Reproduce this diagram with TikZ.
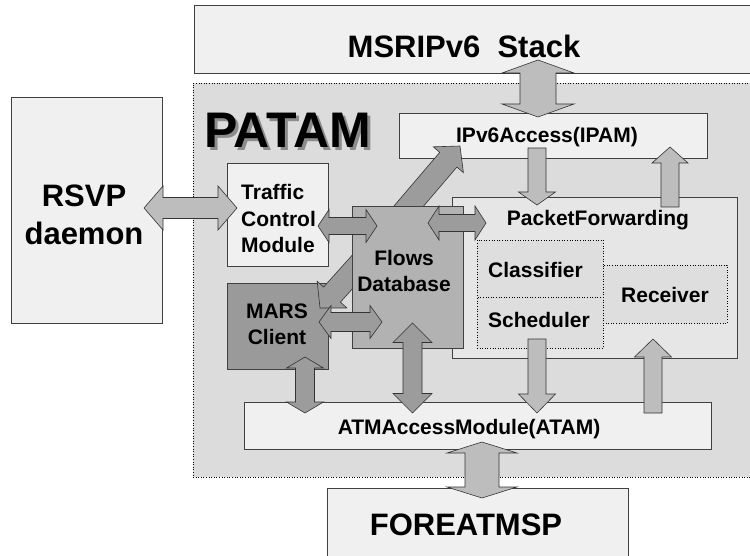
\documentclass[tikz,border=0pt]{standalone}
\usepackage{fontspec}
\setmainfont{Liberation Sans}
\usetikzlibrary{calc}

\definecolor{boxgray}{HTML}{F0F0F0}
\definecolor{patamgray}{HTML}{DCDCDC}
\definecolor{pfgray}{HTML}{E6E6E6}
\definecolor{subgray}{HTML}{DEDEDE}
\definecolor{flowsgray}{HTML}{B2B2B2}
\definecolor{marsgray}{HTML}{9A9A9A}
\definecolor{darrgray}{HTML}{9C9C9C}
\definecolor{larrgray}{HTML}{BDBDBD}

% block arrows: [style](tail)(tip)(shaft half:head half:head length)
\def\fatarrow[#1](#2)(#3)(#4:#5:#6){%
  \coordinate (hb) at ($(#3)!#6pt!(#2)$);
  \draw[#1] ($(#2)!#4pt!90:(#3)$) -- ($(hb)!#4pt!90:(#3)$) -- ($(hb)!#5pt!90:(#3)$) -- (#3)
    -- ($(hb)!#5pt!-90:(#3)$) -- ($(hb)!#4pt!-90:(#3)$) -- ($(#2)!#4pt!-90:(#3)$) -- cycle}
\def\fatdarrow[#1](#2)(#3)(#4:#5:#6){%
  \coordinate (ha) at ($(#2)!#6pt!(#3)$);
  \coordinate (hb) at ($(#3)!#6pt!(#2)$);
  \draw[#1] (#2) -- ($(ha)!#5pt!90:(#3)$) -- ($(ha)!#4pt!90:(#3)$) -- ($(hb)!#4pt!90:(#3)$) -- ($(hb)!#5pt!90:(#3)$) -- (#3)
    -- ($(hb)!#5pt!-90:(#3)$) -- ($(hb)!#4pt!-90:(#3)$) -- ($(ha)!#4pt!-90:(#3)$) -- ($(ha)!#5pt!-90:(#3)$) -- cycle}
% shadowed title
\def\shadowtext#1{\rlap{\kern3pt\raisebox{-3pt}{\textcolor{black!45}{#1}}}#1}

\begin{document}
\begin{tikzpicture}[x=1pt,y=-1pt,
    box/.style={draw=black!75, line width=0.7pt, fill=boxgray, inner sep=0pt},
    dotbox/.style={draw=black, dotted, line width=0.6pt, fill=subgray, inner sep=0pt},
    txt/.style={inner sep=0pt, align=center, font=\bfseries\fontsize{21}{26.5}\selectfont},
    bigtxt/.style={inner sep=0pt, align=center, font=\bfseries\fontsize{31}{38}\selectfont},
    darr/.style={draw=black!80, line width=0.6pt, fill=darrgray},
    larr/.style={draw=black!80, line width=0.6pt, fill=larrgray}]
	\clip (0,0) rectangle (750,556);
	
	% outside blocks
	\node[box, minimum width=576pt, minimum height=68pt] (msrip) at (482,39) {};
	\node[bigtxt, anchor=base] (msrip-t) at (464,58) {MSRIPv6\ \ Stack};
	\node[box, minimum width=151pt, minimum height=226pt] (rsvp) at (86.5,210) {};
	\node[bigtxt] (rsvp-t) at (84,215) {RSVP\\daemon};
	
	% PATAM area
	\node[draw=black, dotted, line width=0.6pt, fill=patamgray, minimum width=577pt, minimum height=394pt] (patam) at (481.5,280) {};
	\node[anchor=base west, inner sep=0pt, font=\bfseries\fontsize{50}{60}\selectfont] (patam-t) at (204,148) {\shadowtext{PATAM}};
	
	\node[box, minimum width=301pt, minimum height=92pt] (fore) at (477.5,534) {};
	\node[bigtxt, anchor=base] (fore-t) at (466,535) {FOREATMSP};
	
	\node[box, minimum width=308pt, minimum height=45pt] (ipam) at (553,135.5) {};
	\node[box, minimum width=101pt, minimum height=103pt] (traffic) at (277.5,214.5) {};
	\node[txt, align=left, anchor=west] (traffic-t) at (241,218.5) {Traffic\\Control\\Module};
	
	% packet forwarding
	\node[box, fill=pfgray, minimum width=285pt, minimum height=161pt] (pfwd) at (594.5,277.5) {};
	\node[txt, anchor=base] (pfwd-t) at (598,226) {PacketForwarding};
	\node[dotbox, minimum width=126pt, minimum height=57pt] (classif) at (540,268.5) {};
	\node[dotbox, minimum width=126pt, minimum height=51pt] (sched) at (540,322.5) {};
	\node[dotbox, minimum width=124pt, minimum height=58pt] (recv) at (665,294) {};
	\node[txt, anchor=base west] (classif-t) at (488,277) {Classifier};
	\node[txt, anchor=base west] (sched-t) at (488,327) {Scheduler};
	\node[txt, anchor=base] (recv-t) at (665,302) {Receiver};
	
	\node[box, fill=marsgray, minimum width=101pt, minimum height=86pt] (mars) at (277.5,326) {};
	\node[txt] (mars-t) at (277,324.5) {MARS\\Client};
	
	% arrows behind the flows box
	\coordinate (fi-a) at (396,221);
	\coordinate (fi-b) at (460,146);
	\fatarrow[darr](fi-a)(fi-b)(11.3:19.8:18);
	\coordinate (fm-a) at (372,250);
	\coordinate (fm-b) at (320,308);
	\fatarrow[darr](fm-a)(fm-b)(11.3:20:18);
	
	\node[box, fill=flowsgray, minimum width=111pt, minimum height=142pt] (flows) at (407.5,277) {};
	\node[txt] (flows-t) at (404,271) {Flows\\Database};
	
	\node[box, minimum width=467pt, minimum height=47pt] (atam) at (477.5,425.5) {};
	\node[txt, anchor=base] (atam-t) at (469,434) {ATMAccessModule(ATAM)};
	
	% arrow ends
	\coordinate (rs-a) at (144,208);
	\coordinate (rs-b) at (237,208);
	\coordinate (ms-a) at (538,60);
	\coordinate (ms-b) at (538,117);
	\coordinate (ip-a) at (537,148);
	\coordinate (ip-b) at (537,205);
	\coordinate (pf-a) at (670,207);
	\coordinate (pf-b) at (670,147);
	\coordinate (tc-a) at (318,226);
	\coordinate (tc-b) at (377,226);
	\coordinate (fp-a) at (428,223);
	\coordinate (fp-b) at (486,223);
	\coordinate (mf-a) at (319,322);
	\coordinate (mf-b) at (382,322);
	\coordinate (ma-a) at (305,357);
	\coordinate (ma-b) at (305,413);
	\coordinate (fa-a) at (412.5,323);
	\coordinate (fa-b) at (412.5,413);
	\coordinate (sa-a) at (537,339);
	\coordinate (sa-b) at (537,413);
	\coordinate (ar-a) at (653,413);
	\coordinate (ar-b) at (653,339);
	\coordinate (af-a) at (482,442);
	\coordinate (af-b) at (482,498);
	
	\fatdarrow[larr](rs-a)(rs-b)(10.5:22:19);
	\fatdarrow[larr](ms-a)(ms-b)(18:36:13);
	\fatarrow[larr](ip-a)(ip-b)(9:18.5:13);
	\fatarrow[larr](pf-a)(pf-b)(9:18:16);
	\fatdarrow[darr](tc-a)(tc-b)(8.5:16.5:11);
	\fatdarrow[darr](fp-a)(fp-b)(8.5:17:11);
	\fatdarrow[darr](mf-a)(mf-b)(9.5:16.5:12);
	\fatdarrow[darr](ma-a)(ma-b)(9.5:18.5:11);
	\fatdarrow[darr](fa-a)(fa-b)(9.5:19.5:19.5);
	\fatarrow[larr](sa-a)(sa-b)(9:18.5:19);
	\fatarrow[larr](ar-a)(ar-b)(9:18.5:18);
	\fatdarrow[larr](af-a)(af-b)(17:35:11);
	
	\node[txt, anchor=base] (ipam-t) at (547,143) {IPv6Access(IPAM)};
\end{tikzpicture}
\end{document}
